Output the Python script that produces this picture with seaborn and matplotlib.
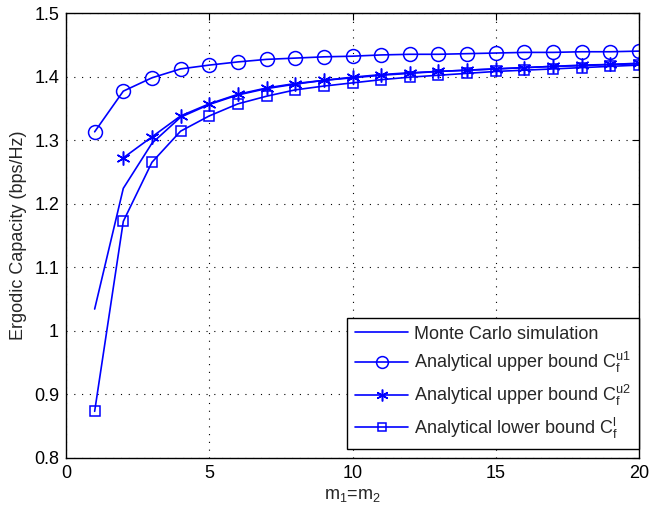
import numpy as np
import pandas as pd
import matplotlib
matplotlib.use("Agg")
import matplotlib.pyplot as plt
import seaborn as sns

# Number of antennas (m1 = m2)
m = list(range(1, 21))

# Ergodic capacity (bps/Hz)
monte_carlo = [1.034, 1.224, 1.295, 1.336, 1.356, 1.371, 1.381, 1.388, 1.394, 1.398,
               1.402, 1.405, 1.408, 1.410, 1.412, 1.414, 1.416, 1.417, 1.419, 1.420]
upper_u1 = [1.313, 1.377, 1.398, 1.412, 1.418, 1.423, 1.427, 1.429, 1.431, 1.432,
            1.434, 1.435, 1.435, 1.436, 1.437, 1.438, 1.438, 1.439, 1.439, 1.440]
m_u2 = list(range(2, 21))
upper_u2 = [1.272, 1.305, 1.338, 1.357, 1.372, 1.382, 1.389, 1.394, 1.399,
            1.403, 1.406, 1.408, 1.410, 1.412, 1.414, 1.416, 1.418, 1.419, 1.421]
lower_l = [0.873, 1.172, 1.265, 1.314, 1.338, 1.357, 1.369, 1.379, 1.385, 1.390,
           1.395, 1.399, 1.402, 1.405, 1.408, 1.410, 1.412, 1.414, 1.416, 1.418]

labels = ["Monte Carlo simulation",
          r"Analytical upper bound $\mathregular{C_f^{u1}}$",
          r"Analytical upper bound $\mathregular{C_f^{u2}}$",
          r"Analytical lower bound $\mathregular{C_f^{l}}$"]

x_ticks = [0, 5, 10, 15, 20]
y_ticks = [0.8, 0.9, 1.0, 1.1, 1.2, 1.3, 1.4, 1.5]
y_tick_labels = ["0.8", "0.9", "1", "1.1", "1.2", "1.3", "1.4", "1.5"]

sns.set_style("white")
plt.rcParams["font.family"] = ["Liberation Sans", "DejaVu Sans"]
plt.rcParams["mathtext.fontset"] = "custom"
plt.rcParams["mathtext.rm"] = "Liberation Sans"
plt.rcParams["font.size"] = 13

blue = "#0000ff"

fig = plt.figure(figsize=(6.52, 5.11), dpi=100)
ax = fig.add_axes([66 / 652, 1 - 457.7 / 511, 573 / 652, 444.7 / 511])

common = dict(color=blue, linewidth=1.2, markeredgecolor=blue,
              markerfacecolor="none", markeredgewidth=1.1, ax=ax)

# six-armed asterisk marker
asterisk = (6, 2, 0)

sns.lineplot(x=m, y=monte_carlo, label=labels[0], **common)
sns.lineplot(x=m, y=upper_u1, marker="o", markersize=10, label=labels[1], **common)
sns.lineplot(x=m_u2, y=upper_u2, marker=asterisk, markersize=10, label=labels[2], **common)
sns.lineplot(x=m, y=lower_l, marker="s", markersize=7.5, label=labels[3], **common)

ax.set_xlim(0, 20)
ax.set_ylim(0.8, 1.5)
ax.set_xticks(x_ticks)
ax.set_yticks(y_ticks)
ax.set_yticklabels(y_tick_labels)

ax.grid(True, color="black", linestyle=(0, (1, 6)), linewidth=0.8)
ax.tick_params(direction="in", length=5, width=0.8, top=True, right=True,
               labelsize=13, pad=5, colors="black")
for side in ax.spines.values():
    side.set_color("black")
    side.set_linewidth(1.0)

ax.set_xlabel(r"m$\mathregular{_1}$=m$\mathregular{_2}$", fontsize=13, labelpad=4)
ax.set_ylabel("Ergodic Capacity (bps/Hz)", fontsize=13, labelpad=5)

leg = ax.legend(loc="lower right", bbox_to_anchor=(1.0, 0.02), borderaxespad=0,
                frameon=True, fancybox=False, framealpha=1, edgecolor="black",
                handlelength=2.9, handletextpad=0.35, labelspacing=0.42,
                borderpad=0.45, fontsize=13, markerscale=0.85)
leg.get_frame().set_linewidth(1.0)

fig.savefig("out.png", dpi=100)
